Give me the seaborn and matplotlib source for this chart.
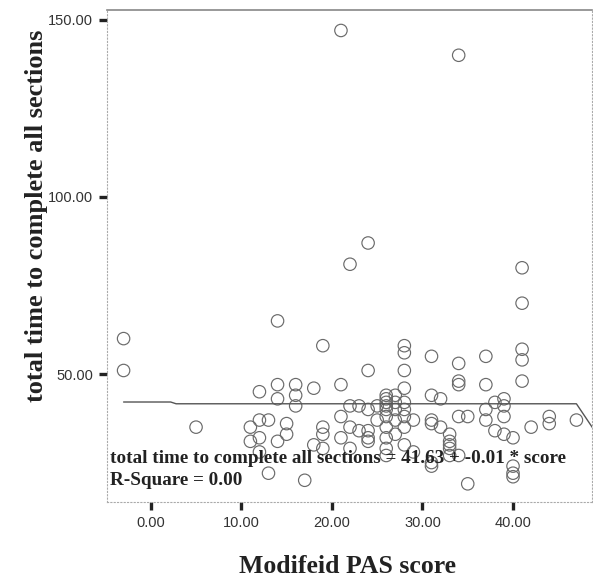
import numpy as np
import pandas as pd
import matplotlib
matplotlib.use("Agg")
import matplotlib.pyplot as plt
import seaborn as sns

# ---- data ----
pas_score = [-3, -3, 5,
             11, 11, 12, 12, 12, 12, 13, 13,
             14, 14, 14, 14, 15, 15, 16, 16, 16, 17, 18, 18,
             19, 19, 19, 19, 21, 21, 21, 21, 22, 22, 22, 22, 23, 23,
             24, 24, 24, 24, 24, 24, 25, 25,
             26, 26, 26, 26, 26, 26, 26, 26, 26, 26,
             27, 27, 27, 27, 27,
             28, 28, 28, 28, 28, 28, 28, 28, 28, 29, 29,
             31, 31, 31, 31, 31, 31, 32, 32, 33, 33, 33, 33, 33,
             34, 34, 34, 34, 34, 34, 35, 35,
             37, 37, 37, 37, 38, 38, 39, 39, 39, 39,
             40, 40, 40, 40, 41, 41, 41, 41, 41, 42, 44, 44, 47]
total_time = [60, 51, 35,
              35, 31, 45, 37, 32, 28, 37, 22,
              65, 47, 43, 31, 36, 33, 47, 44, 41, 20, 46, 30,
              58, 35, 33, 29, 147, 47, 38, 32, 81, 41, 35, 29, 41, 34,
              87, 51, 40, 34, 32, 31, 41, 37,
              44, 43, 42, 41, 40, 38, 35, 32, 29, 27,
              44, 42, 40, 37, 33,
              58, 56, 51, 46, 42, 40, 38, 35, 30, 37, 28,
              55, 44, 37, 36, 25, 24, 43, 35, 33, 31, 30, 29, 27,
              140, 53, 48, 47, 38, 27, 38, 19,
              55, 47, 40, 37, 42, 34, 43, 41, 38, 33,
              32, 24, 22, 21, 80, 70, 57, 54, 48, 35, 38, 36, 37]
fit_x = [-3.0, 2.2, 2.8, 47.0, 49.0]
fit_y = [42.1, 42.1, 41.6, 41.6, 34.0]
x_ticks = [0, 10, 20, 30, 40]
y_ticks = [50, 100, 150]

df = pd.DataFrame({"score": pas_score, "time": total_time})
fit = pd.DataFrame({"x": fit_x, "y": fit_y})

sns.set_style("white")
fig = plt.figure(figsize=(5.93, 5.84), dpi=100)
ax = fig.add_axes([0.180, 0.140, 0.818, 0.843])

sns.scatterplot(data=df, x="score", y="time", ax=ax, marker="o", s=80,
                facecolor="none", edgecolor="#6a6a6a", linewidth=0.85)
sns.lineplot(data=fit, x="x", y="y", ax=ax, color="#555555", linewidth=1.0,
             sort=False, estimator=None)

ax.set_xlim(-4.86, 48.7)
ax.set_ylim(13.8, 152.8)
ax.set_xticks(x_ticks)
ax.set_yticks(y_ticks)
ax.set_xticklabels([f"{v:.2f}" for v in x_ticks], fontfamily="Liberation Sans", fontsize=10.5, color="#333333")
ax.set_yticklabels([f"{v:.2f}" for v in y_ticks], fontfamily="Liberation Sans", fontsize=10.5, color="#333333")
ax.tick_params(axis="both", direction="out", length=6, width=2.4, color="#222222",
               bottom=True, left=True)
ax.tick_params(axis="x", pad=4)
ax.tick_params(axis="y", pad=4)

for side in ["left", "bottom", "right"]:
    ax.spines[side].set_linestyle((0, (1, 2)))
    ax.spines[side].set_color("#aaaaaa")
    ax.spines[side].set_linewidth(0.8)
ax.spines["top"].set_color("#888888")
ax.spines["top"].set_linewidth(1.2)

ax.set_xlabel("Modifeid PAS score", fontfamily="Liberation Serif", fontweight="bold",
              fontsize=18.5, color="#222222")
ax.xaxis.set_label_coords(0.497, -0.107)
ax.set_ylabel("total time to complete all sections", fontfamily="Liberation Serif",
              fontweight="bold", fontsize=19, color="#222222")
ax.yaxis.set_label_coords(-0.122, 0.581)

ax.text(0.006, 0.089, "total time to complete all sections = 41.63 + -0.01 * score",
        transform=ax.transAxes, fontfamily="Liberation Serif", fontweight="bold",
        fontsize=13.8, color="#222222", va="center", ha="left")
ax.text(0.006, 0.045, "R-Square = 0.00",
        transform=ax.transAxes, fontfamily="Liberation Serif", fontweight="bold",
        fontsize=13.8, color="#222222", va="center", ha="left")

fig.savefig("out.png", dpi=100)
